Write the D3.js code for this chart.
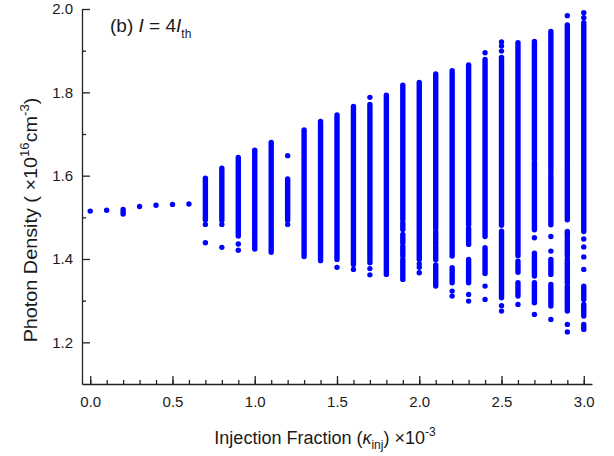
<!DOCTYPE html>
<html>
<head>
<meta charset="utf-8">
<script src="https://cdn.jsdelivr.net/npm/d3@7/dist/d3.min.js"></script>
<style>
  html, body { margin: 0; padding: 0; background: #fff; }
  svg { display: block; }
  text { font-family: "Liberation Sans", Arial, Helvetica, sans-serif; fill: #1a1a1a; }
</style>
</head>
<body>
<svg id="chart" width="614" height="456"></svg>
<script>
// Injection fraction values (×10^-3), one bifurcation column each
const kappa = [0.0, 0.1, 0.2, 0.3, 0.4, 0.5, 0.6, 0.7, 0.8, 0.9, 1.0,
               1.1, 1.2, 1.3, 1.4, 1.5, 1.6, 1.7, 1.8, 1.9, 2.0,
               2.1, 2.2, 2.3, 2.4, 2.5, 2.6, 2.7, 2.8, 2.9, 3.0];

// Densely sampled extrema bands per column: [low, high] photon density (×10^16 cm^-3)
const bands = [
  [], [], [], [], [], [], [],
  [[1.494, 1.594]],
  [[1.493, 1.618]],
  [[1.455, 1.644]],
  [[1.424, 1.661]],
  [[1.416, 1.680]],
  [[1.493, 1.592]],
  [[1.406, 1.710]],
  [[1.396, 1.730]],
  [[1.399, 1.746]],
  [[1.387, 1.766]],
  [[1.391, 1.771]],
  [[1.363, 1.793]],
  [[1.495, 1.817], [1.471, 1.487], [1.439, 1.459], [1.407, 1.431], [1.351, 1.399]],
  [[1.399, 1.824]],
  [[1.474, 1.844], [1.436, 1.466], [1.398, 1.430], [1.335, 1.386]],
  [[1.407, 1.852], [1.343, 1.379]],
  [[1.483, 1.866], [1.435, 1.474], [1.343, 1.399]],
  [[1.454, 1.879], [1.365, 1.427]],
  [[1.481, 1.884], [1.307, 1.467]],
  [[1.408, 1.919], [1.368, 1.395], [1.311, 1.343]],
  [[1.640, 1.922], [1.470, 1.633], [1.359, 1.414], [1.295, 1.343]],
  [[1.607, 1.946], [1.482, 1.600], [1.363, 1.399], [1.287, 1.339]],
  [[1.633, 1.962], [1.494, 1.627], [1.454, 1.466], [1.407, 1.447], [1.343, 1.399], [1.275, 1.335]],
  [[1.466, 1.967], [1.303, 1.335], [1.263, 1.291], [1.231, 1.243]]
];

// Isolated extrema per column
const points = [
  [1.515],
  [1.517],
  [1.519, 1.513, 1.508],
  [1.526],
  [1.529],
  [1.531],
  [1.532],
  [1.483, 1.439],
  [1.483, 1.428],
  [1.436, 1.421],
  [],
  [],
  [1.648, 1.483],
  [],
  [],
  [1.380],
  [1.375],
  [1.788, 1.377, 1.362],
  [],
  [],
  [1.388, 1.380, 1.367],
  [],
  [1.323, 1.311],
  [1.315, 1.299],
  [1.895, 1.335, 1.303],
  [1.921, 1.911, 1.899, 1.288, 1.275],
  [1.291],
  [1.451, 1.267],
  [1.454, 1.419, 1.255],
  [1.984, 1.243, 1.225],
  [1.991, 1.979, 1.448, 1.429, 1.405, 1.375]
];

const xMajorTicks = [0.0, 0.5, 1.0, 1.5, 2.0, 2.5, 3.0];
const yMajorTicks = [1.2, 1.4, 1.6, 1.8, 2.0];

const svg = d3.select("#chart");
const x = d3.scaleLinear().domain([-0.05, 3.05]).range([82, 592]);
const y = d3.scaleLinear().domain([1.1, 2.0]).range([384, 9]);
const blue = "#0000ff";

// Bands: dense runs of dots rendered as round-capped strokes
const bandData = [];
kappa.forEach((k, i) => bands[i].forEach(b => bandData.push({ k, lo: b[0], hi: b[1] })));
svg.append("g").selectAll("line").data(bandData).join("line")
  .attr("x1", d => x(d.k)).attr("x2", d => x(d.k))
  .attr("y1", d => y(d.hi)).attr("y2", d => y(d.lo))
  .attr("stroke", blue).attr("stroke-width", 5.4).attr("stroke-linecap", "round");

const pointData = [];
kappa.forEach((k, i) => points[i].forEach(v => pointData.push({ k, v })));
svg.append("g").selectAll("circle").data(pointData).join("circle")
  .attr("cx", d => x(d.k)).attr("cy", d => y(d.v)).attr("r", 2.7).attr("fill", blue);

// Axes (ticks point inward)
const axisColor = "#222";
const xMinor = d3.range(0, 31).map(i => i / 10);
const yMinor = [1.3, 1.5, 1.7, 1.9];

const gx = svg.append("g").attr("transform", "translate(0,384)");
gx.call(d3.axisBottom(x).tickValues(xMinor).tickSizeInner(-4).tickSizeOuter(0).tickFormat(""));
gx.call(g => g.selectAll(".domain").remove());
svg.append("g").attr("transform", "translate(0,384)")
  .call(d3.axisBottom(x).tickValues(xMajorTicks).tickSizeInner(-8).tickSizeOuter(0)
    .tickPadding(12).tickFormat(d3.format(".1f")));

const gy = svg.append("g").attr("transform", "translate(82,0)");
gy.call(d3.axisLeft(y).tickValues(yMinor).tickSizeInner(-4).tickSizeOuter(0).tickFormat(""));
gy.call(g => g.selectAll(".domain").remove());
svg.append("g").attr("transform", "translate(82,0)")
  .call(d3.axisLeft(y).tickValues(yMajorTicks).tickSizeInner(-8).tickSizeOuter(0)
    .tickPadding(9).tickFormat(d3.format(".1f")));

svg.selectAll(".domain").attr("stroke", axisColor).attr("stroke-width", 1.3);
svg.selectAll(".tick line").attr("stroke", axisColor).attr("stroke-width", 1.3);
svg.selectAll(".tick text").attr("font-size", 15).attr("fill", "#1a1a1a")
  .attr("font-family", "Liberation Sans, Arial, sans-serif");

// Axis titles
const xt = svg.append("text").attr("x", 325).attr("y", 444).attr("text-anchor", "middle").attr("font-size", 18);
xt.append("tspan").text("Injection Fraction (");
xt.append("tspan").attr("font-style", "italic").text("κ");
xt.append("tspan").attr("font-size", 12).attr("dy", 5).text("inj");
xt.append("tspan").attr("dy", -5).text(") ×10");
xt.append("tspan").attr("font-size", 12).attr("dy", -8).text("-3");

const yt = svg.append("text").attr("transform", "translate(37,220) scale(1,1.1) rotate(-90)")
  .attr("text-anchor", "middle").attr("font-size", 18);
yt.append("tspan").text("Photon Density ( ×10");
yt.append("tspan").attr("font-size", 12).attr("dy", -8).text("16");
yt.append("tspan").attr("dy", 8).text("cm");
yt.append("tspan").attr("font-size", 12).attr("dy", -8).text("-3");
yt.append("tspan").attr("dy", 8).text(")");

// Panel annotation
const ann = svg.append("text").attr("x", 110).attr("y", 32).attr("font-size", 19);
ann.append("tspan").text("(b) ");
ann.append("tspan").attr("font-style", "italic").text("I");
ann.append("tspan").text(" = 4");
ann.append("tspan").attr("font-style", "italic").text("I");
ann.append("tspan").attr("font-size", 12).attr("dy", 6).text("th");
</script>
</body>
</html>
